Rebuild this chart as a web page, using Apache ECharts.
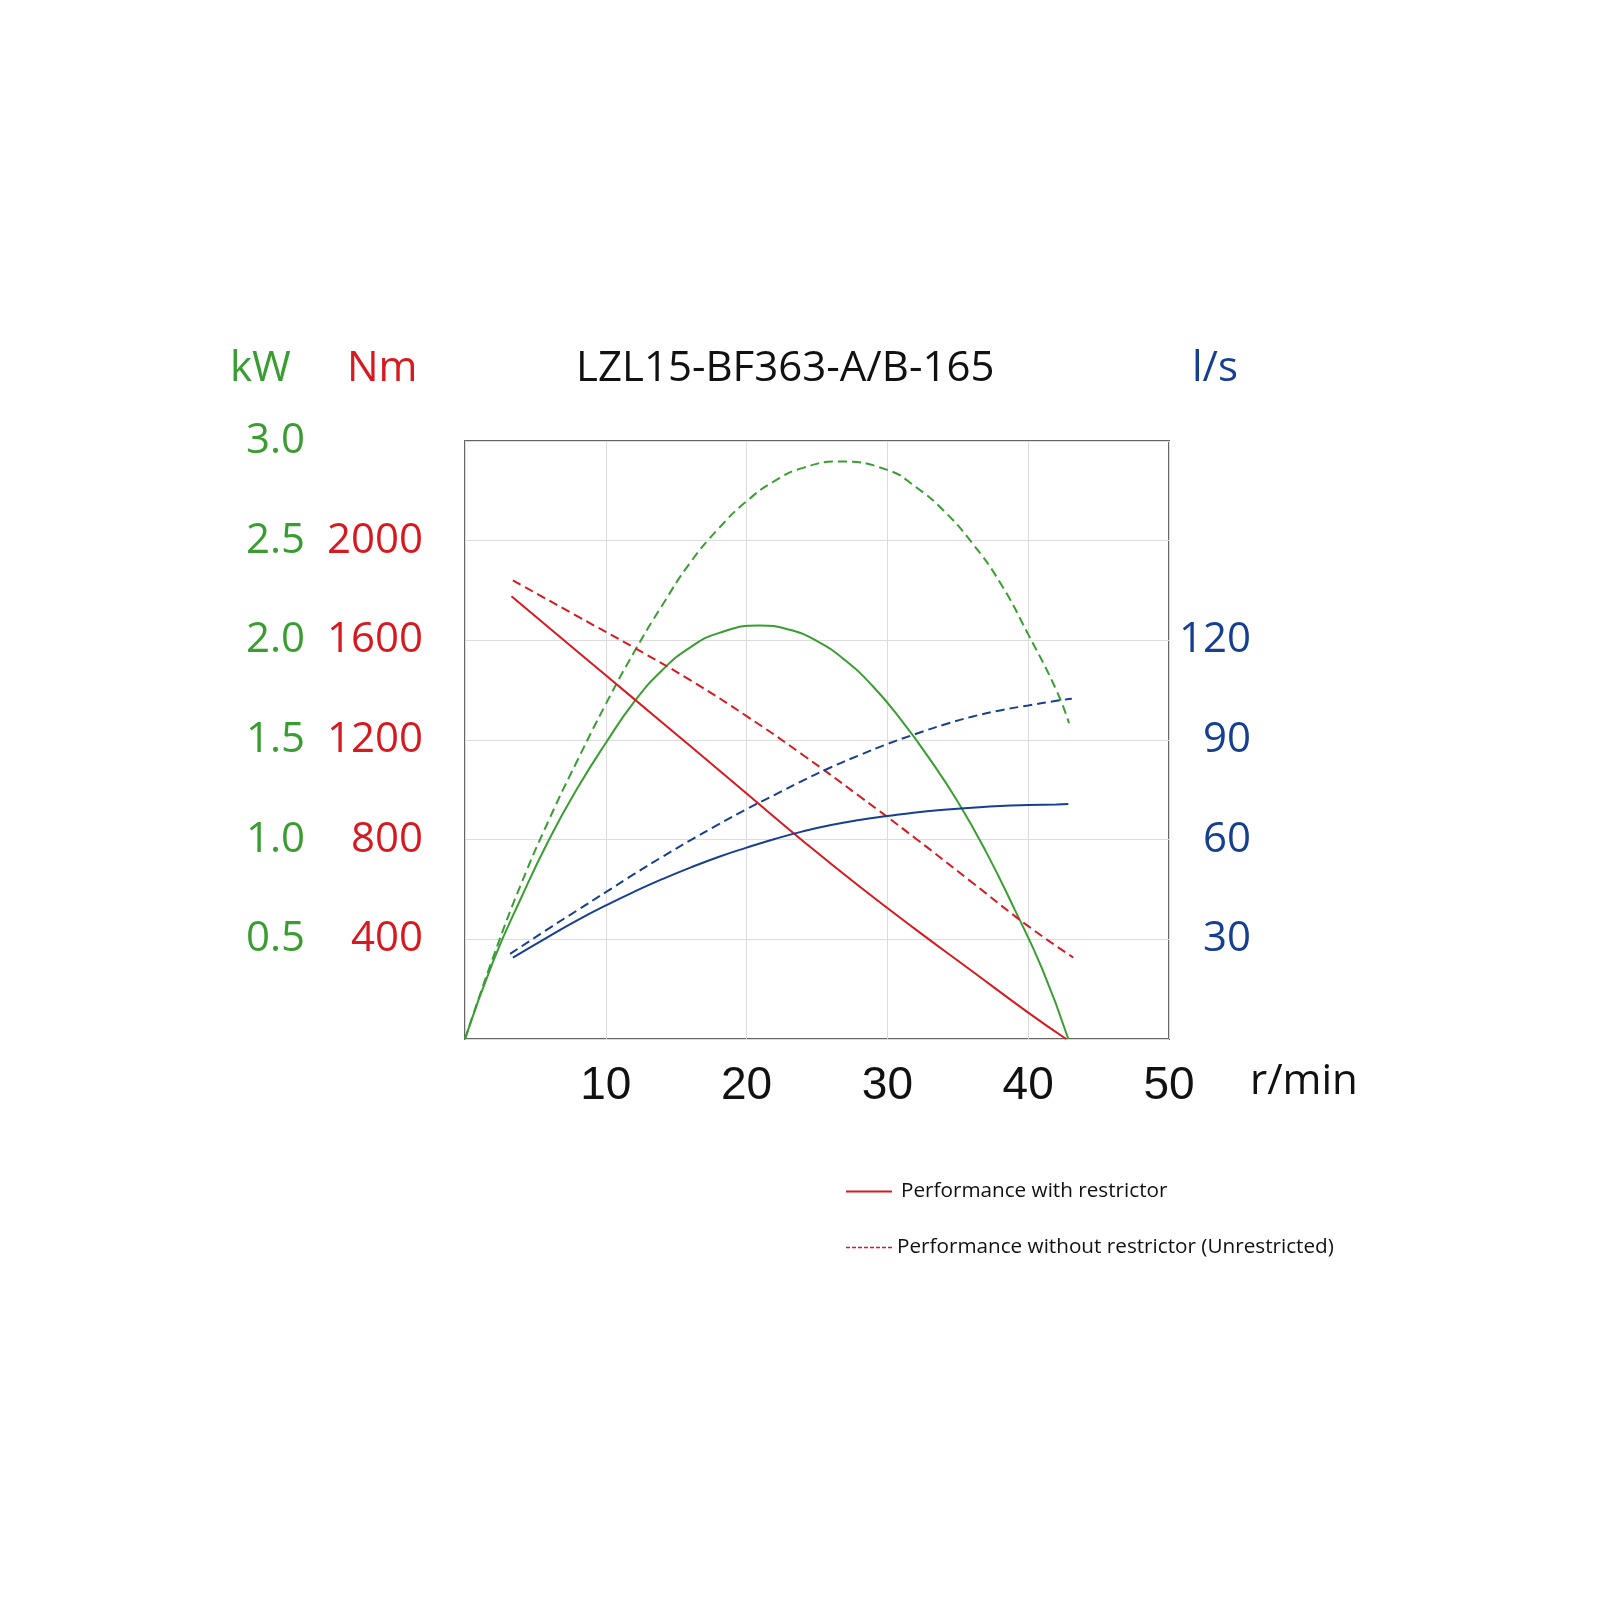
<!DOCTYPE html>
<html>
<head>
<meta charset="utf-8">
<title>LZL15-BF363-A/B-165</title>
<script src="https://cdn.jsdelivr.net/npm/echarts@6.0.0/dist/echarts.min.js"></script>
<style>
    body { margin: 0; background: #fff; }
    #chart { width: 1600px; height: 1600px; }
</style>
</head>
<body>
<div id="chart"></div>
<script>
// colours
const GREEN = '#3a9d32';
const RED = '#d71920';
const BLUE = '#173f91';

// power, kW (left, green)
const powerSpeed = [0, 2, 4, 6, 8, 10, 12, 14, 16, 18, 20.9, 23, 25, 27, 29, 31, 33, 35, 37, 39, 41, 42.85];
const powerWith = [0, 0.39, 0.71, 1.005, 1.26, 1.485, 1.69, 1.85, 1.965, 2.036, 2.075, 2.054, 1.996, 1.90, 1.767, 1.598, 1.405, 1.19, 0.94, 0.655, 0.35, 0];
const powerFreeSpeed = [0, 2, 4, 6, 8, 10, 12, 14, 16, 18, 20, 22, 24, 26.6, 30, 32, 34, 36, 38, 40, 42, 42.9];
const powerFree = [0, 0.41, 0.78, 1.105, 1.40, 1.68, 1.94, 2.175, 2.39, 2.56, 2.698, 2.80, 2.865, 2.897, 2.855, 2.77, 2.65, 2.49, 2.29, 2.03, 1.75, 1.584];

// torque, Nm (left, red)
const torqueSpeed = [3.3, 8, 12, 16, 20, 24, 28, 32, 36, 40, 42.7];
const torqueWith = [1777, 1554, 1365, 1176, 985, 795, 613, 440, 273, 106, 0];
const torqueFreeSpeed = [3.4, 8, 12, 16, 20, 24, 28, 32, 36, 40, 43.2];
const torqueFree = [1841, 1696, 1571, 1440, 1296, 1140, 975, 805, 629, 453, 327];

// flow, l/s (right, blue)
const flowSpeed = [3.4, 6, 8, 10, 12, 14, 16, 18, 20, 22, 24, 26, 28, 30, 32, 34, 36, 38, 40, 42, 42.85];
const flowWith = [24.5, 31, 35.8, 40.2, 44.3, 48.1, 51.6, 54.8, 57.6, 60.2, 62.5, 64.4, 65.9, 67.1, 68.2, 69.0, 69.6, 70.1, 70.4, 70.6, 70.7];
const flowFreeSpeed = [3.2, 6, 8, 10, 12, 14, 16, 18, 20, 22, 24, 26, 28, 30, 32, 34, 36, 38, 40, 42, 43.1];
const flowFree = [25.6, 33.4, 38.8, 44.2, 49.6, 54.8, 59.8, 64.6, 69.2, 73.5, 77.8, 81.8, 85.4, 88.8, 91.8, 94.6, 97, 98.9, 100.4, 101.8, 102.4];

// axis ticks: [min, max, interval]
const speedTicks = [0, 50, 10];
const kwTicks = [0, 3, 0.5];
const nmTicks = [0, 2400, 400];
const flowTicks = [0, 180, 30];

const LEGEND_WITH = 'Performance with restrictor';
const LEGEND_FREE = 'Performance without restrictor (Unrestricted)';

function pairs(xs, ys) {
    return xs.map(function (x, i) { return [x, ys[i]]; });
}

function curve(name, color, dashed, axis, xs, ys) {
    return {
        name: name,
        type: 'line',
        yAxisIndex: axis,
        smooth: 0.5,
        symbol: 'none',
        lineStyle: { color: color, width: 2, type: dashed ? [9, 5] : 'solid' },
        itemStyle: { color: color },
        data: pairs(xs, ys)
    };
}

let myChart = echarts.init(document.getElementById('chart'));
const unitFont = { fontFamily: 'Open Sans', fontSize: 42, fontWeight: 'normal' };

let option = {
    animation: false,
    backgroundColor: '#fff',
    title: [
        { text: 'LZL15-BF363-A/B-165', left: 576, top: 348, padding: 0, textStyle: Object.assign({ color: '#111' }, unitFont) },
        { text: 'kW', left: 230, top: 348, padding: 0, textStyle: Object.assign({ color: GREEN }, unitFont) },
        { text: 'Nm', left: 347, top: 348, padding: 0, textStyle: Object.assign({ color: RED }, unitFont) },
        { text: 'l/s', left: 1192, top: 348, padding: 0, textStyle: Object.assign({ color: BLUE }, unitFont) },
        { text: 'r/min', left: 1250, top: 1061, padding: 0, textStyle: Object.assign({ color: '#111' }, unitFont) }
    ],
    legend: {
        orient: 'vertical',
        left: 845,
        top: 1181,
        padding: 0,
        itemWidth: 46,
        itemHeight: 14,
        itemGap: 35,
        // only the line, no marker
        itemStyle: { opacity: 0 },
        textStyle: { fontFamily: 'Open Sans', fontSize: 20.7, color: '#111' },
        data: [
            { name: LEGEND_WITH, textStyle: { padding: [0, 0, 0, 4] } },
            { name: LEGEND_FREE, lineStyle: { type: [4, 2], width: 1.5 } }
        ]
    },
    // plot frame
    grid: {
        left: 465,
        top: 441,
        width: 704,
        height: 598,
        show: true,
        borderColor: '#666',
        borderWidth: 2
    },
    xAxis: {
        type: 'value',
        min: speedTicks[0],
        max: speedTicks[1],
        interval: speedTicks[2],
        axisLine: { show: false },
        axisTick: { show: false },
        splitLine: { lineStyle: { color: '#dcdcdc', width: 1 } },
        axisLabel: {
            margin: 24,
            color: '#111',
            fontSize: 46,
            fontFamily: '"Liberation Sans", sans-serif',
            formatter: function (v) { return v === 0 ? '' : String(v); }
        }
    },
    yAxis: [{
        // kW
        type: 'value',
        position: 'left',
        offset: 150,
        min: kwTicks[0],
        max: kwTicks[1],
        interval: kwTicks[2],
        axisLine: { show: false },
        axisTick: { show: false },
        splitLine: { lineStyle: { color: '#dcdcdc', width: 1 } },
        axisLabel: {
            margin: 10,
            color: GREEN,
            fontSize: 42,
            fontFamily: 'Open Sans',
            formatter: function (v) { return v === 0 ? '' : v.toFixed(1); }
        }
    }, {
        // Nm
        type: 'value',
        position: 'left',
        min: nmTicks[0],
        max: nmTicks[1],
        interval: nmTicks[2],
        axisLine: { show: false },
        axisTick: { show: false },
        splitLine: { show: false },
        axisLabel: {
            margin: 42,
            color: RED,
            fontSize: 42,
            fontFamily: 'Open Sans',
            formatter: function (v) { return (v === 0 || v === 2400) ? '' : String(v); }
        }
    }, {
        // l/s
        type: 'value',
        position: 'right',
        min: flowTicks[0],
        max: flowTicks[1],
        interval: flowTicks[2],
        axisLine: { show: false },
        axisTick: { show: false },
        splitLine: { show: false },
        axisLabel: {
            margin: 82,
            align: 'right',
            color: BLUE,
            fontSize: 42,
            fontFamily: 'Open Sans',
            formatter: function (v) { return (v === 0 || v > 120) ? '' : String(v); }
        }
    }],
    series: [
        curve('Power with restrictor', GREEN, false, 0, powerSpeed, powerWith),
        curve('Power without restrictor', GREEN, true, 0, powerFreeSpeed, powerFree),
        curve(LEGEND_WITH, RED, false, 1, torqueSpeed, torqueWith),
        curve(LEGEND_FREE, RED, true, 1, torqueFreeSpeed, torqueFree),
        curve('Flow with restrictor', BLUE, false, 2, flowSpeed, flowWith),
        curve('Flow without restrictor', BLUE, true, 2, flowFreeSpeed, flowFree)
    ]
};

myChart.setOption(option);
window.addEventListener('resize', function () {
    myChart.resize();
});
</script>
</body>
</html>
